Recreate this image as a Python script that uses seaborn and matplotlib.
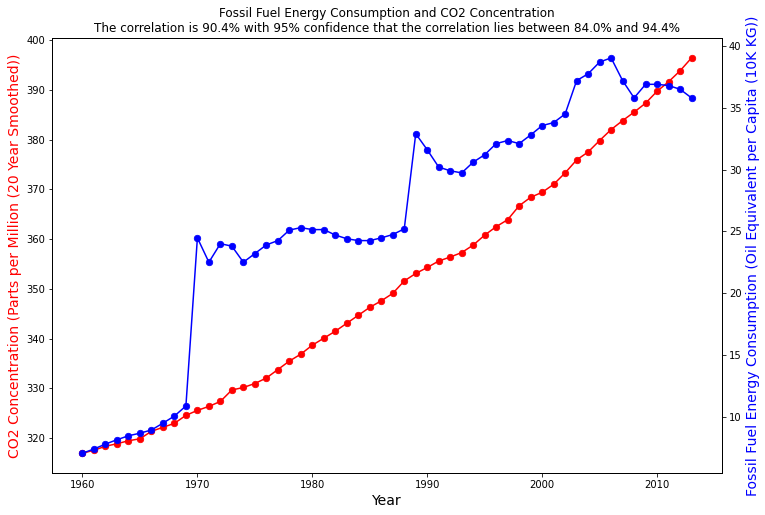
"""
Fossil fuel energy consumption vs CO2 concentration, 1960-2013,
drawn on twin y axes.
"""

import pandas as pd
import matplotlib

matplotlib.use("Agg")
import matplotlib.pyplot as plt
import seaborn as sns

YEARS = list(range(1960, 2014))

# CO2 concentration, ppm (20 year smoothed)
CO2_PPM = [
    317.0, 317.6, 318.4, 318.9, 319.5, 319.9, 321.4, 322.2, 323.0, 324.6,
    325.6, 326.4, 327.4, 329.7, 330.2, 331.0, 332.1, 333.8, 335.5, 336.9,
    338.7, 340.1, 341.5, 343.1, 344.7, 346.3, 347.6, 349.1, 351.6, 353.1,
    354.3, 355.6, 356.4, 357.3, 358.8, 360.8, 362.5, 363.9, 366.7, 368.4,
    369.4, 371.0, 373.3, 375.9, 377.5, 379.8, 382.0, 383.8, 385.5, 387.3,
    389.7, 391.6, 393.8, 396.4,
]

# Fossil fuel energy consumption, oil equivalent per capita (10K kg)
FOSSIL_FUEL = [
    7.04, 7.38, 7.78, 8.13, 8.45, 8.66, 8.92, 9.47, 10.05, 10.86,
    24.47, 22.5, 24.0, 23.8, 22.5, 23.2, 23.9, 24.25, 25.1, 25.3,
    25.14, 25.14, 24.7, 24.4, 24.25, 24.25, 24.47, 24.74, 25.2, 32.9,
    31.6, 30.2, 29.9, 29.73, 30.6, 31.2, 32.1, 32.35, 32.1, 32.8,
    33.56, 33.8, 34.5, 37.2, 37.75, 38.7, 39.04, 37.2, 35.8, 36.9,
    36.9, 36.8, 36.5, 35.8,
]

TITLE = (
    "Fossil Fuel Energy Consumption and CO2 Concentration\n"
    "The correlation is 90.4% with 95% confidence that the correlation "
    "lies between 84.0% and 94.4%"
)

df = pd.DataFrame({"Year": YEARS, "CO2": CO2_PPM, "Fossil": FOSSIL_FUEL})

sns.set_style("ticks")
plt.rcParams["font.family"] = ["DejaVu Sans"]

fig = plt.figure(figsize=(765 / 72, 515 / 72), dpi=72)
ax = fig.add_axes([0.068, 0.0816, 0.8758, 0.8444])
ax2 = ax.twinx()

sns.lineplot(data=df, x="Year", y="CO2", ax=ax, color="red", marker="o",
             markersize=6.5, markeredgecolor="red", linewidth=1.5)
sns.lineplot(data=df, x="Year", y="Fossil", ax=ax2, color="blue", marker="o",
             markersize=6.5, markeredgecolor="blue", linewidth=1.5)

ax.set_title(TITLE, fontsize=12, color="black")
ax.set_xlabel("Year", fontsize=14, color="black")
ax.set_ylabel("CO2 Concentration (Parts per Million (20 Year Smoothed))",
              color="red", fontsize=14)
ax2.set_ylabel("Fossil Fuel Energy Consumption (Oil Equivalent per Capita (10K KG))",
               color="blue", fontsize=14)

for a in (ax, ax2):
    a.tick_params(labelsize=10, length=3.5, width=0.8,
                  colors="black", labelcolor="black")
    for s in a.spines.values():
        s.set_color("black")
        s.set_linewidth(1)

plt.savefig("out.png", dpi=72)
